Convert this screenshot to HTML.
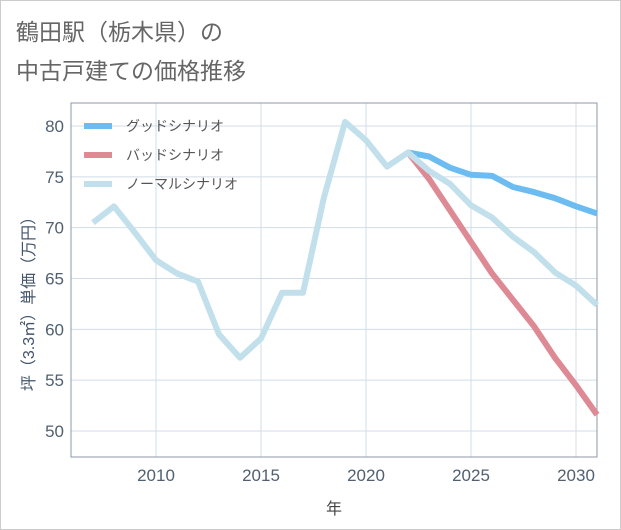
<!DOCTYPE html>
<html><head><meta charset="utf-8"><style>
body{margin:0;background:#fff;}
svg{display:block;font-family:"Liberation Sans","Noto Sans CJK JP",sans-serif;}
</style></head><body>
<svg width="621" height="530">
<rect x="0.5" y="0.5" width="620" height="529" fill="#fff" stroke="#ccc"/>
<text x="16" y="40" font-size="23" fill="#666">鶴田駅（栃木県）の</text>
<text x="16" y="79" font-size="23" fill="#666">中古戸建ての価格推移</text>
<g id="grid"></g>
<rect x="71" y="103" width="526" height="354" fill="none" stroke="#8c99a6" stroke-width="1"/>
<g id="lines"></g>
<g id="legend">
<line x1="84" y1="126" x2="112" y2="126" stroke="#6cbcf2" stroke-width="6"/>
<text x="126" y="131" font-size="14" fill="#555">グッドシナリオ</text>
<line x1="84" y1="155" x2="112" y2="155" stroke="#de8a94" stroke-width="6"/>
<text x="126" y="160" font-size="14" fill="#555">バッドシナリオ</text>
<line x1="84" y1="184" x2="112" y2="184" stroke="#c2e0ec" stroke-width="6"/>
<text x="126" y="189" font-size="14" fill="#555">ノーマルシナリオ</text>
</g>
<text x="334" y="514" font-size="16" fill="#444" text-anchor="middle">年</text>
<text transform="translate(34,300) rotate(-90)" font-size="16" fill="#44546a" text-anchor="middle">坪（3.3㎡）単価（万円）</text>
</svg>
<script>
const years=[2007,2008,2009,2010,2011,2012,2013,2014,2015,2016,2017,2018,2019,2020,2021,2022,2023,2024,2025,2026,2027,2028,2029,2030,2031];
const normal=[70.5,72.1,69.5,66.8,65.5,64.7,59.5,57.2,59.1,63.6,63.6,73,80.4,78.6,76.0,77.4,75.6,74.3,72.2,71.0,69.1,67.6,65.6,64.3,62.4];
const futureYears=[2022,2023,2024,2025,2026,2027,2028,2029,2030,2031];
const good=[77.4,77.0,75.9,75.2,75.1,74.0,73.5,72.9,72.1,71.4];
const bad=[77.4,74.8,71.7,68.6,65.5,62.9,60.3,57.2,54.5,51.6];
const xTicks=[2010,2015,2020,2025,2030];
const yTicks=[50,55,60,65,70,75,80];
const NS="http://www.w3.org/2000/svg";
const x=v=>156+(v-2010)*21;
const y=v=>431-(v-50)*(305/30);
const grid=document.getElementById('grid');
xTicks.forEach(t=>{
 const l=document.createElementNS(NS,'line');
 
 
 l.setAttribute('x1',x(t));l.setAttribute('x2',x(t));l.setAttribute('y1',103);l.setAttribute('y2',457);
 l.setAttribute('stroke','#d0dde8');grid.appendChild(l);
 const tx=document.createElementNS(NS,'text');
 
 
 tx.setAttribute('x',x(t));tx.setAttribute('y',481);tx.setAttribute('font-size','17');tx.setAttribute('fill','#506070');tx.setAttribute('text-anchor','middle');
 tx.textContent=t;grid.appendChild(tx);
});
yTicks.forEach(t=>{
 const l=document.createElementNS(NS,'line');
 
 
 l.setAttribute('x1',71);l.setAttribute('x2',597);l.setAttribute('y1',y(t));l.setAttribute('y2',y(t));
 l.setAttribute('stroke','#d0dde8');grid.appendChild(l);
 const tx=document.createElementNS(NS,'text');
 
 
 tx.setAttribute('x',64);tx.setAttribute('y',y(t)+6);tx.setAttribute('font-size','17');tx.setAttribute('fill','#506070');tx.setAttribute('text-anchor','end');
 tx.textContent=t;grid.appendChild(tx);
});
const lines=document.getElementById('lines');
function draw(xs,vs,color,name){
 const p=document.createElementNS(NS,'polyline');
 
 
 p.setAttribute('points',xs.map((t,i)=>x(t)+','+y(vs[i])).join(' '));
 p.setAttribute('fill','none');p.setAttribute('stroke',color);p.setAttribute('stroke-width','6');p.setAttribute('stroke-linejoin','round');
 lines.appendChild(p);
}
draw(futureYears,good,'#6cbcf2','good-scenario-line');
draw(futureYears,bad,'#de8a94','bad-scenario-line');
draw(years,normal,'#c2e0ec','normal-scenario-line');
</script>
</body></html>
